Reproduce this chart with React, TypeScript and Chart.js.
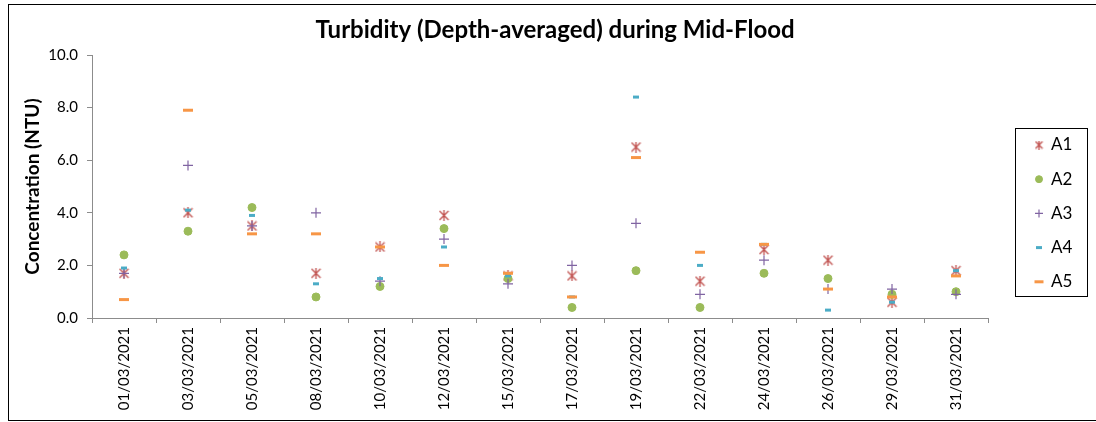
import React, { useEffect, useRef } from 'react';
import { Chart, registerables } from 'chart.js';
import { drawPoint } from 'chart.js/helpers';

Chart.register(...registerables);

const TITLE = 'Turbidity (Depth-averaged) during Mid-Flood';
const Y_TITLE = 'Concentration (NTU)';

const dates = [
  '01/03/2021', '03/03/2021', '05/03/2021', '08/03/2021', '10/03/2021',
  '12/03/2021', '15/03/2021', '17/03/2021', '19/03/2021', '22/03/2021',
  '24/03/2021', '26/03/2021', '29/03/2021', '31/03/2021',
];

const seriesNames = ['A1', 'A2', 'A3', 'A4', 'A5'];
const A1 = [1.7, 4.0, 3.5, 1.7, 2.7, 3.9, 1.6, 1.6, 6.5, 1.4, 2.6, 2.2, 0.6, 1.8];
const A2 = [2.4, 3.3, 4.2, 0.8, 1.2, 3.4, 1.5, 0.4, 1.8, 0.4, 1.7, 1.5, 0.9, 1.0];
const A3 = [1.7, 5.8, 3.5, 4.0, 1.4, 3.0, 1.3, 2.0, 3.6, 0.9, 2.2, 1.1, 1.1, 0.9];
const A4 = [1.9, 4.1, 3.9, 1.3, 1.5, 2.7, 1.6, 0.8, 8.4, 2.0, 2.8, 0.3, 0.6, 1.8];
const A5 = [0.7, 7.9, 3.2, 3.2, 2.7, 2.0, 1.7, 0.8, 6.1, 2.5, 2.8, 1.1, 0.8, 1.6];

const yTicks = [0, 2, 4, 6, 8, 10];

const FONT = 'Lato';

function makeAsterisk(size: number, color: string) {
  const c = document.createElement('canvas');
  c.width = size;
  c.height = size;
  const g = c.getContext('2d')!;
  g.strokeStyle = color;
  g.lineWidth = 1.3;
  const m = 1;
  g.beginPath();
  g.moveTo(m, m); g.lineTo(size - m, size - m);
  g.moveTo(size - m, m); g.lineTo(m, size - m);
  g.moveTo(size / 2, 0); g.lineTo(size / 2, size);
  g.stroke();
  return c;
}

const styles: any[] = [
  { color: '#C0504D', pointStyle: 'asterisk', radius: 5, borderWidth: 1.2, legendRadius: 4 },
  { color: '#9BBB59', pointStyle: 'circle', radius: 4, borderWidth: 1, legendRadius: 3.5 },
  { color: '#8064A2', pointStyle: 'cross', radius: 5, borderWidth: 1.2, legendRadius: 4 },
  { color: '#4BACC6', pointStyle: 'line', radius: 3, borderWidth: 3, legendRadius: 3 },
  { color: '#F79646', pointStyle: 'line', radius: 5, borderWidth: 3, legendRadius: 4.5 },
];

export default function App() {
  const ref = useRef<HTMLCanvasElement | null>(null);

  useEffect(() => {
    if (!ref.current) return;
    const starBig = makeAsterisk(11, styles[0].color);
    const starSmall = makeAsterisk(9, styles[0].color);
    const resolveStyle = (i: number, legend: boolean) =>
      styles[i].pointStyle === 'asterisk' ? (legend ? starSmall : starBig) : styles[i].pointStyle;

    const overlay = {
      id: 'overlay',
      afterDraw(chart: any) {
        const ctx = chart.ctx as CanvasRenderingContext2D;
        ctx.save();
        ctx.fillStyle = '#000';
        ctx.font = `bold 24px ${FONT}`;
        ctx.textAlign = 'center';
        ctx.textBaseline = 'middle';
        ctx.fillText(TITLE, 546, 25);

        ctx.strokeStyle = '#000';
        ctx.lineWidth = 1;
        ctx.strokeRect(1006.5, 123.5, 72, 168);

        chart.data.datasets.forEach((ds: any, i: number) => {
          const y = 140 + i * 34.2;
          const st = styles[i];
          ctx.strokeStyle = st.color;
          ctx.fillStyle = st.color;
          ctx.lineWidth = st.borderWidth;
          drawPoint(ctx, { pointStyle: resolveStyle(i, true), radius: st.legendRadius, rotation: 0, borderWidth: st.borderWidth } as any, 1030, y);
          ctx.fillStyle = '#000';
          ctx.font = `17px ${FONT}`;
          ctx.textAlign = 'left';
          ctx.textBaseline = 'middle';
          ctx.fillText(ds.label, 1042, y);
        });
        ctx.restore();
      },
    };

    const data = [A1, A2, A3, A4, A5];
    const chart = new Chart(ref.current, {
      type: 'line',
      data: {
        labels: dates,
        datasets: seriesNames.map((name, i) => ({
          label: name,
          data: data[i],
          showLine: false,
          pointStyle: resolveStyle(i, false) as any,
          pointRadius: styles[i].radius,
          pointBorderWidth: styles[i].borderWidth,
          borderColor: styles[i].color,
          backgroundColor: styles[i].color,
          pointHoverRadius: styles[i].radius,
          order: 5 - i,
        })),
      },
      options: {
        animation: false,
        responsive: false,
        maintainAspectRatio: false,
        layout: { padding: { top: 50, right: 108, left: 0, bottom: 0 } },
        plugins: {
          legend: { display: false },
          title: { display: false },
          tooltip: { enabled: false },
        },
        scales: {
          x: {
            type: 'category',
            offset: true,
            grid: { offset: true, drawOnChartArea: false, tickLength: 5, color: '#8c8c8c' },
            border: { color: '#8c8c8c', width: 1 },
            ticks: {
              minRotation: 90,
              maxRotation: 90,
              autoSkip: false,
              padding: 4,
              color: '#000',
              font: { family: FONT, size: 15 },
            },
            afterFit(scale: any) { scale.height = 102; },
          },
          y: {
            min: 0,
            max: 10,
            afterBuildTicks(scale: any) { scale.ticks = yTicks.map((v) => ({ value: v })); },
            grid: { drawOnChartArea: false, tickLength: 5, color: '#8c8c8c' },
            border: { color: '#8c8c8c', width: 1 },
            ticks: {
              padding: 9,
              color: '#000',
              font: { family: FONT, size: 15 },
              callback: (v: any) => Number(v).toFixed(1),
            },
            title: {
              display: true,
              text: Y_TITLE,
              color: '#000',
              font: { family: FONT, size: 19, weight: 'bold' },
              padding: { top: 12, bottom: 0 },
            },
            afterFit(scale: any) { scale.width = 83; },
          },
        },
      },
      plugins: [overlay],
    });
    return () => chart.destroy();
  }, []);

  return (
    <div style={{ position: 'absolute', left: 8, top: 4, width: 1088, height: 417, overflow: 'hidden' }}>
      <div style={{ width: 1100, height: 417, border: '1px solid #000', boxSizing: 'border-box', background: '#fff' }}>
        <canvas ref={ref} width={1087} height={415} style={{ display: 'block', width: 1087, height: 415 }} />
      </div>
    </div>
  );
}
